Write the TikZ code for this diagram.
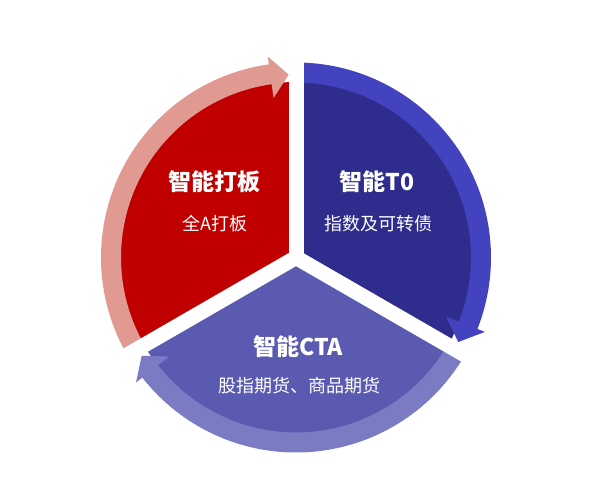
\documentclass[tikz,border=0pt]{standalone}
\usepackage{fontspec}
\newfontfamily\cjk{Noto Sans CJK SC}
\definecolor{redsec}{HTML}{C00000}
\definecolor{redband}{HTML}{E09A92}
\definecolor{bluesec}{HTML}{2E2C8C}
\definecolor{blueband}{HTML}{4343BF}
\definecolor{lavsec}{HTML}{5A5AB0}
\definecolor{lavband}{HTML}{7B7BC4}
\tikzset{
  ttl/.style={anchor=base, inner sep=0pt, text=white, font=\cjk\bfseries\fontsize{23}{23}\selectfont},
  sub/.style={anchor=base, inner sep=0pt, text=white, font=\cjk\fontsize{18}{18}\selectfont},
  gapline/.style={white, line width=15pt, line cap=round}
}
\begin{document}
\begin{tikzpicture}[x=1pt,y=1pt]
\useasboundingbox (0,0) rectangle (600,500);
\fill[white] (0,0) rectangle (600,500);
\coordinate (C) at (296,242.5);
\begin{scope}[shift={(C)}]
  % sectors
  \fill[redsec] (0,0) -- (90:175.5) arc[start angle=90,end angle=210,radius=175.5] -- cycle;
  \fill[bluesec] (0,0) -- (-30:175.5) arc[start angle=-30,end angle=90,radius=175.5] -- cycle;
  \fill[lavsec] (0,0) -- (210:175.5) arc[start angle=210,end angle=330,radius=175.5] -- cycle;
  % arrow bands
  \fill[redband] (212:175) arc[start angle=212,end angle=98,radius=175] -- (98:161) -- (92.3:183) -- (98:203) -- (98:195) arc[start angle=98,end angle=212,radius=195] -- cycle;
  \fill[blueband] (88:175) arc[start angle=88,end angle=-21.5,radius=175] -- (-21.5:161) -- (-27.5:183) -- (-21.5:203) -- (-21.5:195) arc[start angle=-21.5,end angle=88,radius=195] -- cycle;
  \fill[lavband] (-28:175) arc[start angle=-28,end angle=-142,radius=175] -- (-142:161) -- (-147.5:183) -- (-142:203) -- (-142:195) arc[start angle=-142,end angle=-28,radius=195] -- cycle;
  % gaps
  \coordinate (g1) at (90:235);
  \coordinate (g2) at (210:235);
  \coordinate (g3) at (-30:235);
\end{scope}
\draw[gapline] (C) -- (g1);
\draw[gapline] (C) -- (g2);
\draw[gapline] (C) -- (g3);
% texts
\node[ttl] (t1) at (214,309) {智能打板};
\node[sub] (s1) at (215,269) {全A打板};
\node[ttl] (t2) at (377,309) {智能T0};
\node[sub] (s2) at (378,269) {指数及可转债};
\node[ttl] (t3) at (298,144) {智能CTA};
\node[sub] (s3) at (299,107) {股指期货、商品期货};
\end{tikzpicture}
\end{document}
